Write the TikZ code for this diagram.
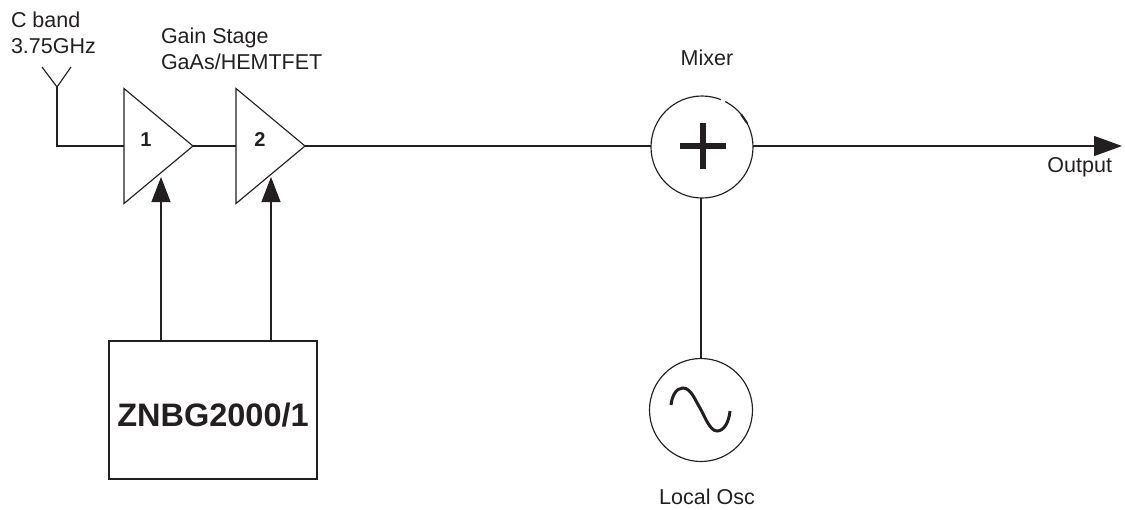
\documentclass[tikz,border=0pt]{standalone}
\usepackage{fontspec}
\setmainfont{Liberation Sans}
\usetikzlibrary{arrows.meta, positioning, shapes.geometric, calc}
\definecolor{inkline}{HTML}{231F20}

\begin{document}
\begin{tikzpicture}[x=1pt, y=-1pt, color=inkline, line width=1.15pt,
    amp/.style={draw, isosceles triangle, isosceles triangle stretches, inner sep=0pt, outer sep=0pt, minimum width=115pt, minimum height=69pt, anchor=apex},
    round/.style={draw, circle, inner sep=0pt, outer sep=0pt, minimum size=102pt},
    lbl/.style={font=\fontsize{21.5}{25.5}\selectfont, align=left, inner sep=0pt, outer sep=0pt},
    num/.style={font=\fontsize{20}{22}\selectfont\bfseries, inner sep=0pt},
    feed/.style={-{Triangle[length=25pt, width=19pt]}},
    outfeed/.style={-{Triangle[length=28pt, width=20pt]}}]
\useasboundingbox (0,0) rectangle (1125,509);

% Amplifier stages
\node[amp] (amp1) at (193,146) {};
\node[amp] (amp2) at (305,146) {};
\node[num] (num1) at (146,140) {1};
\node[num] (num2) at (260,140) {2};

% Mixer and oscillator
\node[round] (mixer) at (702,147) {};
\node[round, minimum size=103pt] (osc) at (701,410) {};

% Bias controller
\node[draw, minimum width=208pt, minimum height=138pt, inner sep=0pt, outer sep=0pt, text height=32pt, text depth=0pt, font=\fontsize{32.5}{36}\selectfont\bfseries] (ctrl) at (213,410) {ZNBG2000/1};

% Antenna
\coordinate (ant) at (57,87);
\coordinate (antl) at (42,67);
\coordinate (antr) at (71,67);
\coordinate (out) at (1122,146);
\draw (antl) -- (ant) -- (antr);
\draw (ant) |- (amp1.lower side);

% Signal path
\draw (amp1.apex) -- (amp2.lower side);
\draw[line width=1.4pt] (amp2.apex) -- (amp2.apex -| mixer.west);
\draw[outfeed] (mixer.east |- out) -- (out);
\draw (osc.north |- mixer.south) -- (osc.north);

% Bias lines
\coordinate (gate1) at (161,177);
\coordinate (gate2) at (271,177);
\draw[feed] (gate1 |- ctrl.north) -- (gate1);
\draw[feed] (gate2 |- ctrl.north) -- (gate2);

% Plus and sine
\draw[line width=6pt] ($(mixer)+(-22,-1)$) -- ($(mixer)+(24,-1)$);
\draw[line width=6pt] ($(mixer)+(1,-24)$) -- ($(mixer)+(1,22)$);
\draw[line width=3pt] ($(osc)+(-30,-5)$) .. controls ($(osc)+(-29,-14)$) and ($(osc)+(-25,-22)$) .. ($(osc)+(-18,-22)$)
    .. controls ($(osc)+(-10,-22)$) and ($(osc)+(-6,-10)$) .. ($(osc)+(-1,-2)$)
    .. controls ($(osc)+(4,7)$) and ($(osc)+(9,21)$) .. ($(osc)+(16,21)$)
    .. controls ($(osc)+(23,21)$) and ($(osc)+(28,12)$) .. ($(osc)+(29,1)$);

% Flaws in the mixer outline
\draw[white, line width=3pt] ($(mixer)+(-68:51)$) -- ($(mixer)+(-63:51)$);
\draw[line width=2pt] ($(mixer)+(-40:51)$) -- ($(mixer)+(-28:51)$);

% Labels
\node[lbl, anchor=north west] (band) at (11,12) {C band\\3.75GHz};
\node[lbl, anchor=north west] (gain) at (161,28) {Gain Stage\\GaAs/HEMTFET};
\node[lbl, above=30pt of mixer, xshift=5pt] (mixlbl) {Mixer};
\node[lbl, below=27pt of osc, xshift=6pt] (osclbl) {Local Osc};
\node[lbl, below left=11pt and 10pt of out.center] (outlbl) {Output};
\end{tikzpicture}
\end{document}
